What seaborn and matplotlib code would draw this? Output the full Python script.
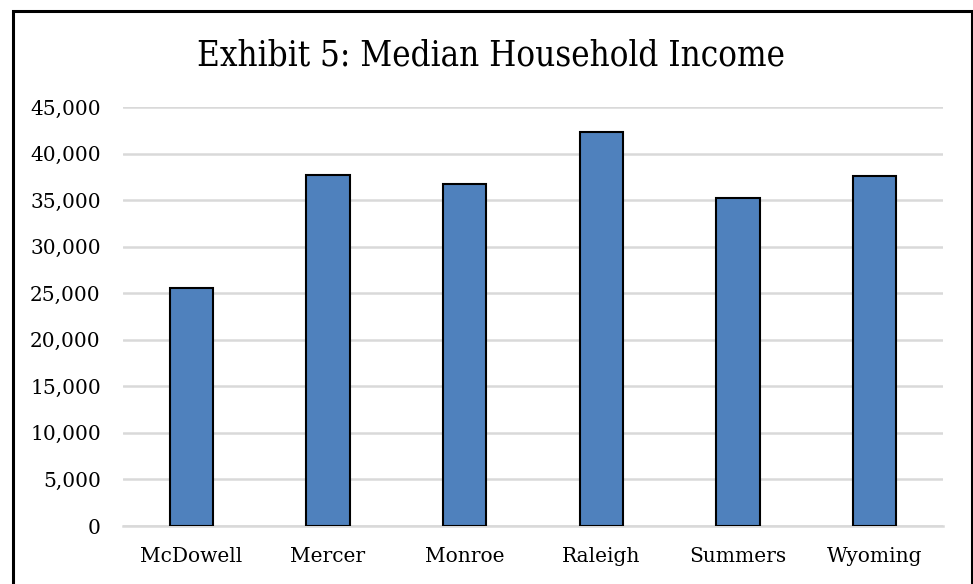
import matplotlib
matplotlib.use("Agg")
import matplotlib.pyplot as plt
import seaborn as sns
import pandas as pd
from matplotlib.ticker import FuncFormatter, MultipleLocator
from matplotlib.patches import Rectangle

counties = ["McDowell", "Mercer", "Monroe", "Raleigh", "Summers", "Wyoming"]
median_income = [25600, 37700, 36700, 42300, 35200, 37600]

df = pd.DataFrame({"County": counties, "Income": median_income})

sns.set_theme(style="white")
plt.rcParams["font.family"] = ["DejaVu Serif"]

fig = plt.figure(figsize=(9.73, 5.84), dpi=100)
ax = fig.add_axes([123 / 973, 1 - 526 / 584, 820 / 973, (526 - 107) / 584])

sns.barplot(data=df, x="County", y="Income", color="#4F81BD", saturation=1,
            width=0.315, edgecolor="black", linewidth=1.5, ax=ax, zorder=3)

ax.set_ylim(0, 45000)
ax.yaxis.set_major_locator(MultipleLocator(5000))
ax.yaxis.set_major_formatter(FuncFormatter(lambda v, p: f"{int(v):,}"))
ax.grid(axis="y", color="#D9D9D9", linewidth=1.8, zorder=0)
ax.set_axisbelow(True)
for s in ["top", "right", "left"]:
    ax.spines[s].set_visible(False)
ax.spines["bottom"].set_color("#D9D9D9")
ax.spines["bottom"].set_linewidth(1.8)
ax.set_xlabel("")
ax.set_ylabel("")
ax.tick_params(axis="y", labelsize=14.5, length=0, pad=16, colors="black")
ax.tick_params(axis="x", labelsize=14.5, length=0, pad=15, colors="black")

fig.text(0.505, 1 - 55 / 584, "Exhibit 5: Median Household Income",
         ha="center", va="center", fontsize=25, fontstretch="condensed",
         color="black")

# Chart frame
fig.patches.append(Rectangle((12.5 / 973, -0.05), (971.5 - 12.5) / 973, 1.05 - 11 / 584,
                             transform=fig.transFigure, fill=False,
                             edgecolor="black", linewidth=2.2, zorder=10))

fig.savefig("out.png", dpi=100, facecolor="white")
